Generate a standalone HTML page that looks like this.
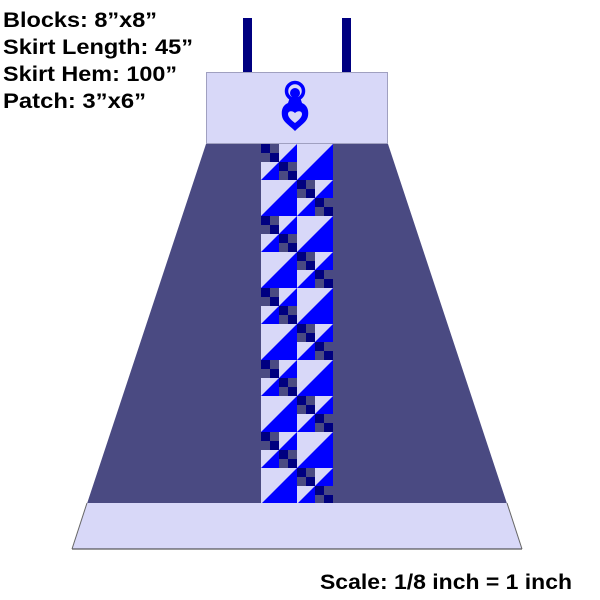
<!DOCTYPE html>
<html><head><meta charset="utf-8"><style>
html,body{margin:0;padding:0;background:#fff;width:600px;height:600px;overflow:hidden}
svg{display:block}
text{font-family:"Liberation Sans",Arial,sans-serif;font-weight:bold;fill:#000}
</style></head><body>
<svg width="600" height="600" viewBox="0 0 600 600" xmlns="http://www.w3.org/2000/svg">
<defs>
<g id="tri">
<rect width="18" height="18" fill="#d8d8f8"/>
<polygon points="0,18 18,0 18,18" fill="#0000ff"/>
</g>
<g id="bigtri">
<rect width="36" height="36" fill="#d8d8f8"/>
<polygon points="0,36 36,0 36,36" fill="#0000ff"/>
</g>
<g id="four">
<rect width="18" height="18" fill="#4a4a82"/>
<rect width="9" height="9" fill="#000080"/>
<rect x="9" y="9" width="9" height="9" fill="#000080"/>
</g>
<g id="blockA">
<use href="#four"/>
<use href="#tri" x="18"/>
<use href="#tri" y="18"/>
<use href="#four" x="18" y="18"/>
</g>
</defs>
<text x="3" y="27" font-size="21" textLength="154" lengthAdjust="spacingAndGlyphs">Blocks: 8”x8”</text>
<text x="3" y="54" font-size="21" textLength="190" lengthAdjust="spacingAndGlyphs">Skirt Length: 45”</text>
<text x="3" y="81" font-size="21" textLength="174" lengthAdjust="spacingAndGlyphs">Skirt Hem: 100”</text>
<text x="3" y="108" font-size="21" textLength="143" lengthAdjust="spacingAndGlyphs">Patch: 3”x6”</text>
<rect x="243" y="18" width="9" height="55" fill="#000080"/>
<rect x="342" y="18" width="9" height="55" fill="#000080"/>
<rect x="206.5" y="72.5" width="181" height="71" fill="#d8d8f8" stroke="#a0a0c0" stroke-width="1"/>
<polygon points="206,144 388,144 522,549 72,549" fill="#4a4a82"/>
<polygon points="87,503 507,503 522,549 72,549" fill="#d8d8f8"/>
<line x1="72" y1="549" x2="522" y2="549" stroke="#333" stroke-width="1"/>
<line x1="87" y1="503" x2="72" y2="549" stroke="#666" stroke-width="1"/>
<line x1="507" y1="503" x2="522" y2="549" stroke="#666" stroke-width="1"/>
<g>
<use href="#blockA" x="261" y="144"/><use href="#bigtri" x="297" y="144"/>
<use href="#bigtri" x="261" y="180"/><use href="#blockA" x="297" y="180"/>
<use href="#blockA" x="261" y="216"/><use href="#bigtri" x="297" y="216"/>
<use href="#bigtri" x="261" y="252"/><use href="#blockA" x="297" y="252"/>
<use href="#blockA" x="261" y="288"/><use href="#bigtri" x="297" y="288"/>
<use href="#bigtri" x="261" y="324"/><use href="#blockA" x="297" y="324"/>
<use href="#blockA" x="261" y="360"/><use href="#bigtri" x="297" y="360"/>
<use href="#bigtri" x="261" y="396"/><use href="#blockA" x="297" y="396"/>
<use href="#blockA" x="261" y="432"/><use href="#bigtri" x="297" y="432"/>
<use href="#bigtri" x="261" y="468"/><use href="#blockA" x="297" y="468"/>
</g>
<rect x="261" y="503" width="72" height="1" fill="#d8d8f8"/>
<!-- icon -->
<circle cx="295" cy="91" r="8.5" fill="none" stroke="#0000ff" stroke-width="3.5"/>
<circle cx="295" cy="93" r="5" fill="#0000ff"/>
<path d="M290,97 L300,97 L302,103 C307,105 309,110 308,116 C307,122 301,125 295,131 C289,125 283,122 282,116 C281,110 283,105 288,103 Z" fill="#0000ff"/>
<path d="M295,123 C291,120 288,117 288,114 C288,111 292,110 295,113 C298,110 302,111 302,114 C302,117 299,120 295,123 Z" fill="#d8d8f8"/>
<text x="320" y="589" font-size="21" textLength="252" lengthAdjust="spacingAndGlyphs">Scale: 1/8 inch = 1 inch</text>
</svg>
</body></html>
